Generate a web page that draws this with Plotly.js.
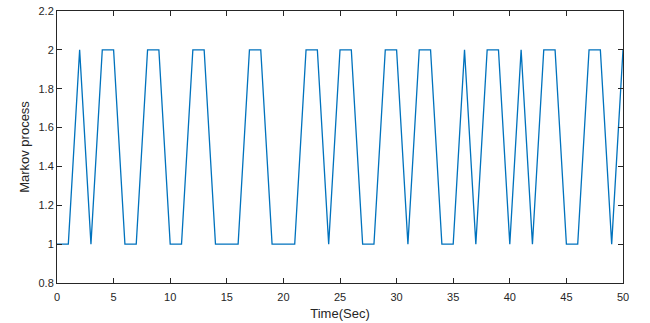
<!DOCTYPE html>
<html>
<head>
<meta charset="utf-8">
<script src="https://cdn.plot.ly/plotly-3.0.1.min.js"></script>
<style>html,body{margin:0;padding:0;background:#fff;}#chart{width:650px;height:323px;}</style>
</head>
<body>
<div id="chart"></div>
<script>
const time = [0,1,2,3,4,5,6,7,8,9,10,11,12,13,14,15,16,17,18,19,20,21,22,23,24,25,26,27,28,29,30,31,32,33,34,35,36,37,38,39,40,41,42,43,44,45,46,47,48,49,50];
const state = [1,1,2,1,2,2,1,1,2,2,1,1,2,2,1,1,1,2,2,1,1,1,2,2,1,2,2,1,1,2,2,1,2,2,1,1,2,1,2,2,1,2,1,2,2,1,1,2,2,1,2];
const xTicks = [0,5,10,15,20,25,30,35,40,45,50];
const yTicks = [0.8,1,1.2,1.4,1.6,1.8,2,2.2];
const yTickText = ['0.8','1','1.2','1.4','1.6','1.8','2','2.2'];

const trace = {
  x: time, y: state, type: 'scatter', mode: 'lines',
  line: {color: '#0072BD', width: 1.3}, hoverinfo: 'none'
};
const axisCommon = {
  showgrid: false, zeroline: false, showline: true, mirror: 'ticks',
  linecolor: '#262626', linewidth: 1, ticks: 'inside', ticklen: 5, tickwidth: 1,
  tickcolor: '#262626', tickfont: {family: 'Liberation Sans, Arial', size: 11, color: '#262626'}
};
const layout = {
  width: 650, height: 323,
  margin: {l: 57, r: 27, t: 11, b: 40},
  paper_bgcolor: '#fff', plot_bgcolor: '#fff',
  showlegend: false,
  xaxis: Object.assign({}, axisCommon, {
    range: [0, 50], tickvals: xTicks, ticktext: xTicks.map(String),
    ticklabelstandoff: 4,
    title: {text: 'Time(Sec)', font: {family: 'Liberation Sans, Arial', size: 13, color: '#262626'}, standoff: 6}
  }),
  yaxis: Object.assign({}, axisCommon, {
    range: [0.8, 2.2], tickvals: yTicks, ticktext: yTickText,
    title: {text: 'Markov process', font: {family: 'Liberation Sans, Arial', size: 13, color: '#262626'}, standoff: 5}
  })
};
Plotly.newPlot('chart', [trace], layout, {displayModeBar: false, staticPlot: true});
</script>
</body>
</html>
